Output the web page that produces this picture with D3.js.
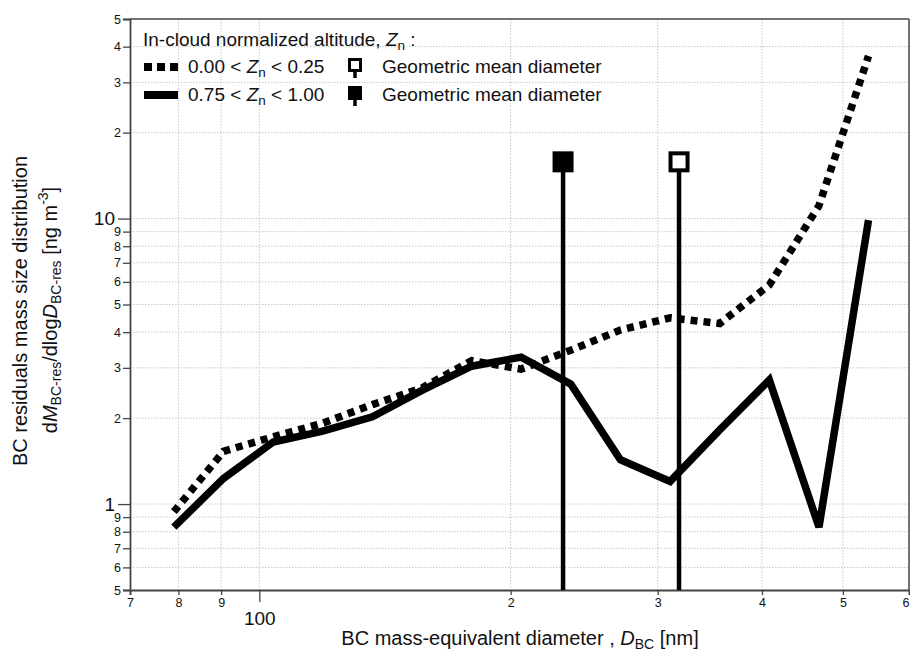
<!DOCTYPE html>
<html><head><meta charset="utf-8">
<script src="https://cdn.jsdelivr.net/npm/d3@7/dist/d3.min.js"></script>
<style>
body{margin:0;background:#fff;}
text{font-family:"Liberation Sans",Arial,sans-serif;fill:#111;}
</style></head>
<body><svg id="c" width="910" height="659"></svg>
<script>
// ---- data ----
const diameters = [79.0, 90.6, 103.9, 119.1, 136.6, 156.6, 179.6, 205.9, 236.1, 270.7, 310.5, 356.0, 408.2, 468.1, 536.6];
const lowZn  = [0.94, 1.53, 1.72, 1.92, 2.23, 2.55, 3.18, 2.97, 3.46, 4.07, 4.49, 4.29, 5.85, 11.1, 37.1];
const highZn = [0.83, 1.23, 1.65, 1.80, 2.02, 2.50, 3.04, 3.27, 2.63, 1.43, 1.20, 1.82, 2.72, 0.83, 9.88];
const gmdLow = 318.2, gmdHigh = 231.1, gmdMarkerValue = 15.8;
const xTickVals = [70, 80, 90, 100, 200, 300, 400, 500, 600];
const xTickLabels = ["7", "8", "9", "100", "2", "3", "4", "5", "6"];
const xMajor = [100];
const yTickVals = [0.5, 0.6, 0.7, 0.8, 0.9, 1, 2, 3, 4, 5, 6, 7, 8, 9, 10, 20, 30, 40, 50];
const yTickLabels = ["5", "6", "7", "8", "9", "1", "2", "3", "4", "5", "6", "7", "8", "9", "10", "2", "3", "4", "5"];
const yMajor = [1, 10];

const svg = d3.select("#c");
const L = 130, R = 909, T = 19, B = 590;
const x = d3.scaleLog().domain([70, 600]).range([L, R]);
const y = d3.scaleLog().domain([0.5, 50]).range([B, T]);

// grid
const grid = svg.append("g").attr("stroke", "#c8c8c8").attr("stroke-width", 1).attr("stroke-dasharray", "1.5,1.5");
xTickVals.filter(v => v > 70 && v < 600).forEach(v => grid.append("line").attr("x1", x(v)).attr("x2", x(v)).attr("y1", T).attr("y2", B));
yTickVals.filter(v => v > 0.5 && v < 50).forEach(v => grid.append("line").attr("x1", L).attr("x2", R).attr("y1", y(v)).attr("y2", y(v)));

// frame top/right
svg.append("line").attr("x1", L).attr("x2", R).attr("y1", T).attr("y2", T).attr("stroke", "#444").attr("stroke-width", 1.5);
svg.append("line").attr("x1", R).attr("x2", R).attr("y1", T).attr("y2", B).attr("stroke", "#444").attr("stroke-width", 1.5);

// axes
const xAxis = d3.axisBottom(x).tickValues(xTickVals).tickFormat((d, i) => xTickLabels[i]).tickSize(5).tickPadding(3);
const gx = svg.append("g").attr("transform", `translate(0,${B})`).call(xAxis);
const yAxis = d3.axisLeft(y).tickValues(yTickVals).tickFormat((d, i) => yTickLabels[i]).tickSize(7).tickPadding(2);
const gy = svg.append("g").attr("transform", `translate(${L},0)`).call(yAxis);
[gx, gy].forEach(g => {
  g.select(".domain").attr("stroke", "#444").attr("stroke-width", 1.8);
  g.selectAll(".tick line").attr("stroke", "#444").attr("stroke-width", 1.3);
  g.selectAll(".tick text").attr("font-size", 12.5).attr("font-family", "Liberation Sans, Arial, sans-serif").attr("fill", "#111");
});
gx.selectAll(".tick").filter(d => xMajor.includes(d)).each(function () {
  d3.select(this).select("line").attr("y2", 12);
  d3.select(this).select("text").attr("font-size", 19).attr("y", 22);
});
// keep the last label inside the picture
gx.selectAll(".tick").filter(d => d === 600).select("text").attr("text-anchor", "end").attr("dx", 0);
gy.selectAll(".tick").filter(d => yMajor.includes(d)).each(function () {
  d3.select(this).select("line").attr("x2", -12);
  d3.select(this).select("text").attr("font-size", 19).attr("x", -15);
});

// lines
const line = d3.line().x(d => x(d[0])).y(d => y(d[1]));
svg.append("path").datum(diameters.map((d, i) => [d, highZn[i]]))
  .attr("d", line).attr("fill", "none").attr("stroke", "#000").attr("stroke-width", 7.5).attr("stroke-linejoin", "miter");
svg.append("path").datum(diameters.map((d, i) => [d, lowZn[i]]))
  .attr("d", line).attr("fill", "none").attr("stroke", "#000").attr("stroke-width", 7.5).attr("stroke-dasharray", "7,6");

// geometric mean diameter markers
function gmd(v, filled) {
  svg.append("line").attr("x1", x(v)).attr("x2", x(v)).attr("y1", y(gmdMarkerValue)).attr("y2", B)
    .attr("stroke", "#000").attr("stroke-width", 4.5);
  const s = 21;
  if (filled) {
    svg.append("rect").attr("x", x(v) - s / 2).attr("y", y(gmdMarkerValue) - s / 2).attr("width", s).attr("height", s).attr("fill", "#000");
  } else {
    svg.append("rect").attr("x", x(v) - s / 2 + 2).attr("y", y(gmdMarkerValue) - s / 2 + 2).attr("width", s - 4).attr("height", s - 4)
      .attr("fill", "#fff").attr("stroke", "#000").attr("stroke-width", 4);
  }
}
gmd(gmdHigh, true);
gmd(gmdLow, false);

// legend
const fs = 19, sfs = 13.5;
const lt = svg.append("text").attr("x", 143).attr("y", 46).attr("font-size", fs);
lt.append("tspan").text("In-cloud normalized altitude, ");
lt.append("tspan").attr("font-style", "italic").text("Z");
lt.append("tspan").attr("font-size", sfs).attr("dy", 4).text("n");
lt.append("tspan").attr("dy", -4).text(" :");

function zText(yb, a, b) {
  const t = svg.append("text").attr("x", 188).attr("y", yb).attr("font-size", fs);
  t.append("tspan").text(a + " < ");
  t.append("tspan").attr("font-style", "italic").text("Z");
  t.append("tspan").attr("font-size", sfs).attr("dy", 4).text("n");
  t.append("tspan").attr("dy", -4).text(" < " + b);
}
svg.append("line").attr("x1", 144).attr("x2", 178).attr("y1", 67).attr("y2", 67).attr("stroke", "#000").attr("stroke-width", 8).attr("stroke-dasharray", "8,5");
zText(73, "0.00", "0.25");
svg.append("line").attr("x1", 144).attr("x2", 178).attr("y1", 95).attr("y2", 95).attr("stroke", "#000").attr("stroke-width", 8);
zText(101, "0.75", "1.00");

function legMarker(cx, cy, filled) {
  svg.append("line").attr("x1", cx).attr("x2", cx).attr("y1", cy).attr("y2", cy + 13).attr("stroke", "#000").attr("stroke-width", 3.5);
  if (filled) svg.append("rect").attr("x", cx - 7).attr("y", cy - 7).attr("width", 14).attr("height", 14).attr("fill", "#000");
  else svg.append("rect").attr("x", cx - 5.5).attr("y", cy - 5.5).attr("width", 11).attr("height", 11).attr("fill", "#fff").attr("stroke", "#000").attr("stroke-width", 3);
}
legMarker(355, 65, false);
legMarker(355, 93, true);
svg.append("text").attr("x", 382).attr("y", 73).attr("font-size", fs).text("Geometric mean diameter");
svg.append("text").attr("x", 382).attr("y", 101).attr("font-size", fs).text("Geometric mean diameter");

// x title
const xt = svg.append("text").attr("x", 520).attr("y", 645).attr("text-anchor", "middle").attr("font-size", 20);
xt.append("tspan").text("BC mass-equivalent diameter , ");
xt.append("tspan").attr("font-style", "italic").text("D");
xt.append("tspan").attr("font-size", 14).attr("dy", 4).text("BC");
xt.append("tspan").attr("dy", -4).text(" [nm]");

// y title
svg.append("text").attr("transform", "translate(27,311) rotate(-90)").attr("text-anchor", "middle").attr("font-size", 20)
  .text("BC residuals mass size distribution");
const yt2 = svg.append("text").attr("transform", "translate(57,310) rotate(-90)").attr("text-anchor", "middle").attr("font-size", 20);
yt2.append("tspan").text("d");
yt2.append("tspan").attr("font-style", "italic").text("M");
yt2.append("tspan").attr("font-size", 14).attr("dy", 4).text("BC-res");
yt2.append("tspan").attr("dy", -4).text("/dlog");
yt2.append("tspan").attr("font-style", "italic").text("D");
yt2.append("tspan").attr("font-size", 14).attr("dy", 4).text("BC-res");
yt2.append("tspan").attr("dy", -4).text(" [ng m");
yt2.append("tspan").attr("font-size", 14).attr("dy", -9).text("-3");
yt2.append("tspan").attr("dy", 9).text("]");
</script></body></html>
